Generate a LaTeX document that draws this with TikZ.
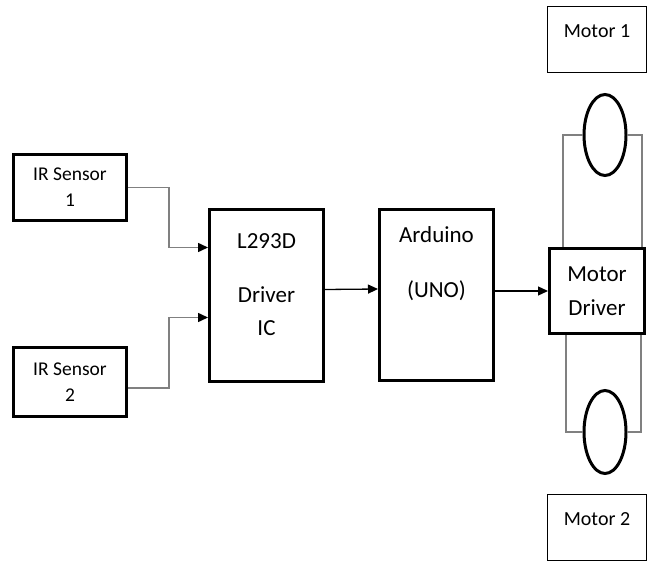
\documentclass[tikz,border=0pt]{standalone}
\usepackage{fontspec}
\setmainfont{Carlito}
\usetikzlibrary{arrows.meta,positioning,shapes.geometric}

\begin{document}
\begin{tikzpicture}[
  x=1pt,y=-1pt,
  box/.style={draw,line width=3pt,inner sep=0pt},
  sensor/.style={box,minimum width=113pt,minimum height=66pt,align=center,font=\fontsize{19.5}{26}\selectfont},
  block/.style={box,minimum width=114pt,minimum height=172pt},
  blocktext/.style={align=center,inner sep=0pt,font=\fontsize{23}{33}\selectfont},
  motorbox/.style={draw,line width=1pt,minimum width=99pt,minimum height=66pt,inner sep=0pt},
  motortext/.style={inner sep=0pt,font=\fontsize{20}{24}\selectfont},
  wheel/.style={draw,ellipse,line width=3pt,inner sep=0pt,minimum width=42pt},
  wire/.style={draw=gray,line width=1.5pt},
  feed/.style={wire,-{Triangle[length=10pt,width=9pt,color=black]}},
  flow/.style={line width=1.3pt,-{Triangle[length=10pt,width=9pt]}}
]
  \useasboundingbox (0,0) rectangle (647,561);

  \node[sensor] (ir1) at (70,187.5) {IR Sensor\\1};
  \node[sensor,minimum height=69pt] (ir2) at (70,382) {IR Sensor\\2};

  \node[block] (ic) at (266.5,295.5) {};
  \node[blocktext,below=25pt of ic.north] (ictext) {L293D\\[21pt]Driver\\IC};
  \node[block,minimum height=171pt] (ard) at (436.5,295) {};
  \node[blocktext,below=18.5pt of ard.north] (ardtext) {Arduino\\[22pt](UNO)};

  \node[box,minimum width=95pt,minimum height=85pt,align=center,font=\fontsize{23}{34}\selectfont] (drv) at (597,291) {Motor\\Driver};

  \node[motorbox] (mot1) at (597,40) {};
  \node[motortext,below=18pt of mot1.north] (mot1text) {Motor 1};
  \node[motorbox] (mot2) at (597,527) {};
  \node[motortext,below=19pt of mot2.north] (mot2text) {Motor 2};

  \node[wheel,minimum height=81pt] (whl1) at (605,135) {};
  \node[wheel,minimum height=83pt] (whl2) at (605,432) {};

  \draw[feed] (ir1.east) -- ++(41,0) |- ([yshift=48pt]ic.west);
  \draw[feed] ([yshift=-6pt]ir2.east) -- ++(41,0) |- ([yshift=-22pt]ic.west);
  \draw[flow] ([yshift=6pt]ic.east) -- ([yshift=6pt]ard.west);
  \draw[flow] (ard.east |- drv.west) -- (drv.west);

  \draw[wire] (whl1.west) -| ([xshift=-34pt]drv.north);
  \draw[wire] (whl1.east) -| ([xshift=45pt]drv.north);
  \draw[wire] (whl2.west) -| ([xshift=-31pt]drv.south);
  \draw[wire] (whl2.east) -| ([xshift=44pt]drv.south);
\end{tikzpicture}
\end{document}
